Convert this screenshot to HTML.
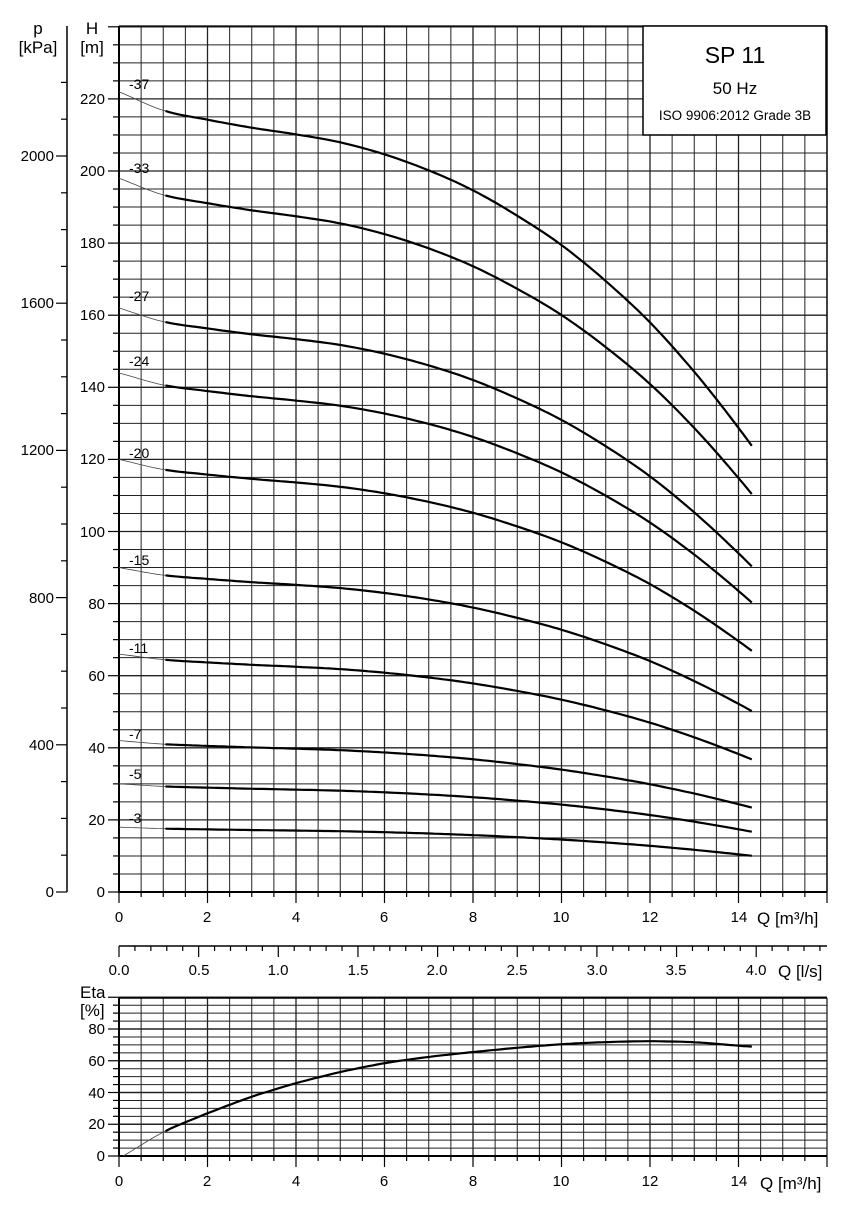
<!DOCTYPE html>
<html><head><meta charset="utf-8"><style>
html,body{margin:0;padding:0;background:#fff}
svg{display:block;font-family:"Liberation Sans",Arial,sans-serif}
</style></head><body>
<svg id="s" width="864" height="1206" viewBox="0 0 864 1206" xmlns="http://www.w3.org/2000/svg">
<g id="grid"></g>
<g id="curves" fill="none" stroke="#000"></g>
<g id="ticks" stroke="#000"></g>
<rect x="643" y="26" width="183" height="109" fill="#fff" stroke="#000" stroke-width="1.5"/>
<g fill="#000" text-anchor="middle">
<text x="735" y="63" font-size="23">SP 11</text>
<text x="735" y="94" font-size="17">50 Hz</text>
<text x="735" y="120" font-size="13.5">ISO 9906:2012 Grade 3B</text>
</g>
<g fill="#000" font-size="17" text-anchor="middle">
<text x="38" y="34">p</text><text x="38" y="53">[kPa]</text>
<text x="92" y="34">H</text><text x="92" y="53">[m]</text>
</g>
<g fill="#000" font-size="15" text-anchor="end">
<text x="105" y="104">220</text><text x="105" y="176">200</text><text x="105" y="248">180</text>
<text x="105" y="320">160</text><text x="105" y="392">140</text><text x="105" y="464">120</text>
<text x="105" y="537">100</text><text x="105" y="609">80</text><text x="105" y="681">60</text>
<text x="105" y="753">40</text><text x="105" y="825">20</text><text x="105" y="897">0</text>
<text x="54" y="161">2000</text><text x="54" y="308">1600</text><text x="54" y="455">1200</text>
<text x="54" y="603">800</text><text x="54" y="750">400</text><text x="54" y="897">0</text>
</g>
<g fill="#000" font-size="14">
<text x="129" y="89">-37</text><text x="129" y="173">-33</text><text x="129" y="301">-27</text>
<text x="129" y="366">-24</text><text x="129" y="458">-20</text><text x="129" y="565">-15</text>
<text x="129" y="653">-11</text><text x="129" y="739">-7</text><text x="129" y="779">-5</text>
<text x="129" y="823">-3</text>
</g>
<g fill="#000" font-size="15" text-anchor="middle">
<text x="119" y="922">0</text><text x="207" y="922">2</text><text x="296" y="922">4</text>
<text x="384" y="922">6</text><text x="473" y="922">8</text><text x="561" y="922">10</text>
<text x="650" y="922">12</text><text x="739" y="922">14</text>
<text x="119" y="975">0.0</text><text x="199" y="975">0.5</text><text x="278" y="975">1.0</text>
<text x="358" y="975">1.5</text><text x="437" y="975">2.0</text><text x="517" y="975">2.5</text>
<text x="597" y="975">3.0</text><text x="676" y="975">3.5</text><text x="756" y="975">4.0</text>
<text x="119" y="1186">0</text><text x="207" y="1186">2</text><text x="296" y="1186">4</text>
<text x="384" y="1186">6</text><text x="473" y="1186">8</text><text x="561" y="1186">10</text>
<text x="650" y="1186">12</text><text x="739" y="1186">14</text>
</g>
<g fill="#000" font-size="17">
<text x="757" y="924">Q [m³/h]</text>
<text x="778" y="977">Q [l/s]</text>
<text x="760" y="1189">Q [m³/h]</text>
<text x="80" y="998">Eta</text>
<text x="80" y="1016">[%]</text>
</g>
<g fill="#000" font-size="15" text-anchor="end">
<text x="105" y="1034">80</text><text x="105" y="1066">60</text><text x="105" y="1098">40</text>
<text x="105" y="1129">20</text><text x="105" y="1161">0</text>
</g>
</svg>
<script>
(function(){
var NS="http://www.w3.org/2000/svg";
function el(p,t,a){var e=document.createElementNS(NS,t);for(var k in a)e.setAttribute(k,a[k]);document.getElementById(p).appendChild(e);return e;}
function ln(p,x1,y1,x2,y2,w,c){el(p,"line",{x1:x1,y1:y1,x2:x2,y2:y2,"stroke-width":w,stroke:c||"#000"});}
var X0=119,XS=44.25,Y0=892,YS=3.605,TOP=26,R=827;
for(var i=0;i<=32;i++){var x=X0+i*XS/2;ln("grid",x,TOP,x,Y0,i%4==0?1.3:1,"#222");}
for(var j=0;j<=48;j++){var y=Y0-j*5*YS;ln("grid",X0,y,R,y,j%4==0?1.3:1,"#222");}
ln("grid",X0,TOP,X0,Y0+1,2);ln("grid",X0,Y0,R,Y0,2);ln("grid",R,TOP,R,Y0,1.3);ln("grid",X0,TOP,R,TOP,1.3);
var EY0=1156,ES=1.5875,ET=998;
for(var i=0;i<=32;i++){var x=X0+i*XS/2;ln("grid",x,ET,x,EY0,i%4==0?1.3:1,"#222");}
for(var j=0;j<=20;j++){var y=EY0-j*5*ES;ln("grid",X0,y,R,y,j%4==0?1.6:1,"#222");}
ln("grid",X0,ET,X0,EY0,2);ln("grid",X0,EY0,R,EY0,2);ln("grid",X0,ET,R,ET,1.6);
for(var j=0;j<=48;j++){var y=Y0-j*5*YS;ln("ticks",j%4==0?108:113,y,X0,y,1.2);}
ln("ticks",67,TOP,67,Y0,1.5);
var PS=736/2000;
for(var k=0;k<=22;k++){var y=Y0-k*100*PS;if(y<TOP)break;ln("ticks",k%4==0?56:61,y,67,y,1.2);}
for(var i=0;i<=32;i++){var x=X0+i*XS/2;ln("ticks",x,Y0,x,Y0+(i%4==0?11:5),1.2);}
for(var i=0;i<=32;i++){var x=X0+i*XS/2;ln("ticks",x,EY0,x,EY0+(i%4==0?11:5),1.2);}
for(var j=0;j<=20;j++){var y=EY0-j*5*ES;ln("ticks",j%4==0?108:113,y,X0,y,1.2);}
ln("ticks",X0,946,R,946,1.5);
var LS=3.6*XS;
for(var k=0;k<=44;k++){var x=X0+k*0.1*LS;if(x>R+0.5)break;ln("ticks",x,946,x,946+(k%5==0?11:5),1.2);}
var hq=[[0,6.0],[1,5.86],[2,5.79],[3,5.73],[4,5.68],[5,5.62],[6,5.53],[7,5.41],[8,5.26],[9,5.07],[10,4.85],[11,4.58],[12,4.27],[13,3.9],[14,3.48],[15,3.02]];
function h(q){for(var i=0;i<hq.length-1;i++){if(q<=hq[i+1][0]){var a=hq[i],b=hq[i+1],t=(q-a[0])/(b[0]-a[0]);
 var m0=(i>0)?(hq[i+1][1]-hq[i-1][1])/(hq[i+1][0]-hq[i-1][0]):(b[1]-a[1])/(b[0]-a[0]);
 var m1=(i+2<hq.length)?(hq[i+2][1]-a[1])/(hq[i+2][0]-a[0]):(b[1]-a[1])/(b[0]-a[0]);
 var d=b[0]-a[0],t2=t*t,t3=t2*t;
 return (2*t3-3*t2+1)*a[1]+(t3-2*t2+t)*d*m0+(-2*t3+3*t2)*b[1]+(t3-t2)*d*m1;}}return hq[hq.length-1][1];}
function path(f,q0,q1,yf){var s="",n=Math.round((q1-q0)/0.1);for(var k=0;k<=n;k++){var q=q0+(q1-q0)*k/n;s+=(s?"L":"M")+(X0+q*XS).toFixed(1)+","+yf(f(q)).toFixed(1);}return s;}
[37,33,27,24,20,15,11,7,5,3].forEach(function(n){
 var f=function(q){return n*h(q);},yf=function(H){return Y0-H*YS;};
 el("curves","path",{d:path(f,0,1.05,yf),"stroke-width":0.8,stroke:"#444"});
 el("curves","path",{d:path(f,1.05,14.3,yf),"stroke-width":2.2,"stroke-linejoin":"round"});
});
var eq=[[0.1,0],[1,15.5],[2,27],[3,37.5],[4,46],[5,53],[6,58.6],[7,62.5],[8,65.5],[9,68.2],[10,70.5],[11,71.8],[12,72.4],[13,71.8],[14,69.5],[14.3,68.7]];
function lin(arr,q){for(var i=0;i<arr.length-1;i++)if(q<=arr[i+1][0]){var a=arr[i],b=arr[i+1];return a[1]+(b[1]-a[1])*(q-a[0])/(b[0]-a[0]);}return arr[arr.length-1][1];}
function ey(q){var s=0,w=0;for(var d=-0.3;d<=0.31;d+=0.1){var qq=Math.max(0.1,Math.min(14.3,q+d));s+=lin(eq,qq);w++;}return q<0.5?lin(eq,q):s/w;}
var yfE=function(v){return EY0-v*ES;};
el("curves","path",{d:path(ey,0.1,1.05,yfE),"stroke-width":0.8,stroke:"#444"});
el("curves","path",{d:path(ey,1.05,14.3,yfE),"stroke-width":2.2});
})();
</script>
</body></html>
